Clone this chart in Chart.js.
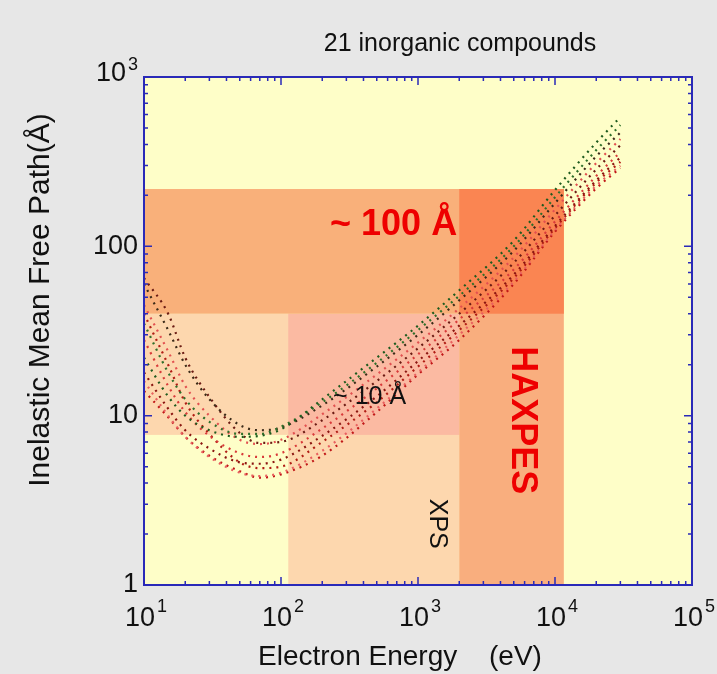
<!DOCTYPE html>
<html>
<head>
<meta charset="utf-8">
<script src="https://cdn.jsdelivr.net/npm/chart.js@4.4.1/dist/chart.umd.min.js"></script>
<style>
  html, body { margin: 0; padding: 0; background: #e7e7e7; }
  #wrap { width: 717px; height: 674px; }
</style>
</head>
<body>
<div id="wrap"><canvas id="imfp" width="717" height="674"></canvas></div>
<script>
// electron energy (eV), shared by every curve
const energies = [10, 15, 20, 30, 50, 70, 100, 200, 500, 1000, 2000, 5000, 10000, 20000, 30000]

// inelastic mean free path (Å)
const imfp01 = [22, 13, 10, 8.2, 7.5, 7.6, 8.3, 12.5, 22, 34, 55, 108, 215, 410, 580]
const imfp02 = [35, 18, 12.5, 9.2, 7.8, 7.8, 8.6, 12.0, 20.5, 32, 51, 100, 195, 370, 520]
const imfp03 = [60, 32, 20, 12.5, 8.8, 8.2, 8.5, 11.5, 19.5, 30, 48, 94, 180, 340, 470]
const imfp04 = [45, 24, 15, 10, 7.2, 6.8, 7.2, 10.2, 17.5, 27, 43, 86, 165, 310, 430]
const imfp05 = [65, 40, 22, 12.9, 7.9, 6.9, 7.0, 9.4, 16, 25, 40, 80, 152, 285, 395]
const imfp06 = [28, 15, 10.5, 7.6, 6.0, 5.7, 6.0, 8.4, 14.5, 23, 37, 73, 140, 260, 360]
const imfp07 = [18, 11, 8.2, 6.4, 5.3, 5.2, 5.5, 7.6, 13, 21, 34, 68, 132, 245, 335]
const imfp08 = [40, 20, 12, 7.8, 5.3, 4.9, 5.0, 7.0, 12, 19.5, 32, 65, 128, 238, 315]
const imfp09 = [16, 10, 7.5, 5.7, 4.6, 4.4, 4.6, 6.2, 11, 18, 30, 62, 125, 228, 300]
const imfp10 = [14, 9.8, 7.5, 5.8, 4.7, 4.3, 4.5, 5.8, 10.5, 17.5, 28, 60, 122, 220, 290]

const seriesList = [imfp01, imfp02, imfp03, imfp04, imfp05, imfp06, imfp07, imfp08, imfp09, imfp10]
const seriesColors = ['#1e5a1e', '#2f6f2a', '#3b2a18', '#e25050', '#6a1a12',
                      '#d83a3a', '#8a1510', '#b01c14', '#e86060', '#c01818']

// shaded ranges (eV, Å), drawn in this order
const regionX0 = [10, 113, 113, 10, 2000, 2000]
const regionX1 = [2000, 2000, 2000, 11600, 11600, 11600]
const regionY0 = [7.7, 1, 7.7, 40, 1, 40]
const regionY1 = [40, 40, 40, 218, 218, 218]
const regionColors = ['#fdd7ae', '#fdd7ae', '#fbbaa2', '#f9b07a', '#f9ae7e', '#fa8552']

const BLUE = '#2a2ab8'
const FONT = '"Liberation Sans", Arial, sans-serif'

const framePlugin = {
  id: 'frame',
  beforeDraw(chart) {
    const { ctx, chartArea: a } = chart
    ctx.save()
    ctx.fillStyle = '#e7e7e7'
    ctx.fillRect(0, 0, chart.width, chart.height)
    ctx.fillStyle = '#fefec8'
    ctx.fillRect(a.left, a.top, a.right - a.left, a.bottom - a.top)
    ctx.restore()
  },
  beforeDatasetsDraw(chart) {
    const { ctx, scales: { x, y } } = chart
    ctx.save()
    regionX0.forEach((x0, i) => {
      const l = x.getPixelForValue(x0)
      const r = x.getPixelForValue(regionX1[i])
      const t = y.getPixelForValue(regionY1[i])
      const b = y.getPixelForValue(regionY0[i])
      ctx.fillStyle = regionColors[i]
      ctx.fillRect(l, t, r - l, b - t)
    })
    ctx.restore()
  },
  afterDatasetsDraw(chart) {
    const { ctx, chartArea: a, scales: { x, y } } = chart
    ctx.save()

    // annotations
    ctx.textBaseline = 'middle'
    ctx.textAlign = 'left'
    ctx.fillStyle = '#ee0000'
    ctx.font = 'bold 36px ' + FONT
    ctx.fillText('~ 100 Å', x.getPixelForValue(228), y.getPixelForValue(134))
    ctx.fillStyle = '#111'
    ctx.font = '25px ' + FONT
    ctx.fillText('~ 10 Å', x.getPixelForValue(240), y.getPixelForValue(12.9))

    ctx.save()
    ctx.translate(x.getPixelForValue(5750), y.getPixelForValue(9.4))
    ctx.rotate(Math.PI / 2)
    ctx.textAlign = 'center'
    ctx.fillStyle = '#ee0000'
    ctx.font = 'bold 36px ' + FONT
    ctx.fillText('HAXPES', 0, 0)
    ctx.restore()

    ctx.save()
    ctx.translate(x.getPixelForValue(1380), y.getPixelForValue(2.3))
    ctx.rotate(Math.PI / 2)
    ctx.textAlign = 'center'
    ctx.fillStyle = '#111'
    ctx.font = '25px ' + FONT
    ctx.fillText('XPS', 0, 0)
    ctx.restore()

    // frame
    ctx.strokeStyle = BLUE
    ctx.lineWidth = 2
    ctx.strokeRect(a.left, a.top, a.right - a.left, a.bottom - a.top)

    // inward ticks on all four sides
    ctx.lineWidth = 1.5
    ctx.beginPath()
    for (let d = 1; d <= 4; d++) {
      for (let m = 1; m <= 9; m++) {
        const px = x.getPixelForValue(m * Math.pow(10, d))
        const len = m === 1 ? 8 : 4
        ctx.moveTo(px, a.bottom); ctx.lineTo(px, a.bottom - len)
        ctx.moveTo(px, a.top); ctx.lineTo(px, a.top + len)
      }
    }
    for (let d = 0; d <= 2; d++) {
      for (let m = 1; m <= 9; m++) {
        const py = y.getPixelForValue(m * Math.pow(10, d))
        const len = m === 1 ? 8 : 4
        ctx.moveTo(a.left, py); ctx.lineTo(a.left + len, py)
        ctx.moveTo(a.right, py); ctx.lineTo(a.right - len, py)
      }
    }
    ctx.stroke()

    // tick labels
    ctx.fillStyle = '#111'
    ctx.textBaseline = 'middle'
    ctx.textAlign = 'right'
    ctx.font = '27px ' + FONT
    const yLab = { 1: '1', 10: '10', 100: '100' }
    Object.keys(yLab).forEach(v => {
      ctx.fillText(yLab[v], a.left - 6, y.getPixelForValue(+v))
    })
    // 10^3 at the top
    ctx.font = '18px ' + FONT
    ctx.textAlign = 'left'
    const supW = ctx.measureText('3').width
    ctx.fillText('3', a.left - 6 - supW, y.getPixelForValue(1000) - 12)
    ctx.font = '27px ' + FONT
    ctx.textAlign = 'right'
    ctx.fillText('10', a.left - 8 - supW, y.getPixelForValue(1000) - 3)

    for (let d = 1; d <= 5; d++) {
      const px = x.getPixelForValue(Math.pow(10, d))
      ctx.textBaseline = 'alphabetic'
      ctx.textAlign = 'left'
      ctx.font = '27px ' + FONT
      const w = ctx.measureText('10').width
      ctx.font = '18px ' + FONT
      const ws = ctx.measureText(String(d)).width
      const x0 = px - (w + 2 + ws) / 2 + 2
      ctx.font = '27px ' + FONT
      ctx.fillText('10', x0, a.bottom + 41)
      ctx.font = '18px ' + FONT
      ctx.fillText(String(d), x0 + w + 2, a.bottom + 27)
    }

    // titles
    ctx.textAlign = 'center'
    ctx.textBaseline = 'middle'
    ctx.font = '25px ' + FONT
    ctx.fillText('21 inorganic compounds', 460, 44)
    ctx.font = '28px ' + FONT
    ctx.textAlign = 'left'
    ctx.fillText('Electron Energy', 258, 657)
    ctx.fillText('(eV)', 489, 657)
    ctx.save()
    ctx.translate(41, 300)
    ctx.rotate(-Math.PI / 2)
    ctx.textAlign = 'center'
    ctx.font = '30px ' + FONT
    ctx.fillText('Inelastic Mean Free Path(Å)', 0, 0)
    ctx.restore()

    ctx.restore()
  }
}

const datasets = seriesList.map((vals, i) => ({
  label: 'compound ' + (i + 1),
  data: energies.map((e, j) => ({ x: e, y: vals[j] })),
  borderColor: seriesColors[i],
  borderWidth: 2.2,
  borderDash: [2, 5],
  pointRadius: 0,
  fill: false,
  cubicInterpolationMode: 'monotone'
}))

new Chart(document.getElementById('imfp'), {
  type: 'line',
  data: { datasets: datasets },
  options: {
    responsive: false,
    animation: false,
    layout: { padding: { top: 77, right: 25, left: 0, bottom: 0 } },
    plugins: {
      legend: { display: false },
      tooltip: { enabled: false },
      title: { display: false }
    },
    scales: {
      x: {
        type: 'logarithmic',
        min: 10,
        max: 100000,
        ticks: { display: false },
        grid: { display: false },
        border: { display: false },
        afterFit(s) { s.height = 89 }
      },
      y: {
        type: 'logarithmic',
        min: 1,
        max: 1000,
        ticks: { display: false },
        grid: { display: false },
        border: { display: false },
        afterFit(s) { s.width = 144 }
      }
    }
  },
  plugins: [framePlugin]
})
</script>
</body>
</html>
